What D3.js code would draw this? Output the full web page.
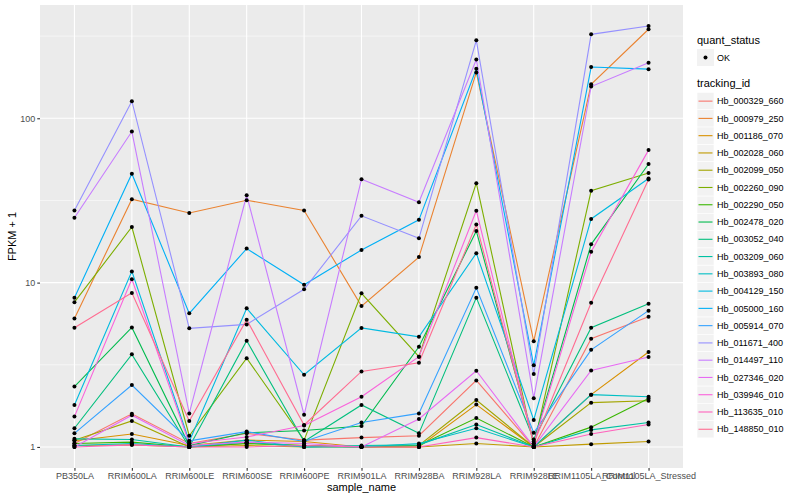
<!DOCTYPE html>
<html>
<head>
<meta charset="utf-8">
<script src="https://cdn.jsdelivr.net/npm/d3@7"></script>
<style>
  body { margin: 0; background: #fff; }
  text { font-family: "Liberation Sans", Arial, sans-serif; }
</style>
</head>
<body>
<svg id="chart" width="800" height="500"></svg>
<script>
// categories on the x axis
const samples = ["PB350LA", "RRIM600LA", "RRIM600LE", "RRIM600SE", "RRIM600PE", "RRIM901LA",
  "RRIM928BA", "RRIM928LA", "RRIM928LE", "RRIM1105LA_Control", "RRIM1105LA_Stressed"];

const trackingIds = ["Hb_000329_660", "Hb_000979_250", "Hb_001186_070", "Hb_002028_060", "Hb_002099_050",
  "Hb_002260_090", "Hb_002290_050", "Hb_002478_020", "Hb_003052_040", "Hb_003209_060",
  "Hb_003893_080", "Hb_004129_150", "Hb_005000_160", "Hb_005914_070", "Hb_011671_400",
  "Hb_014497_110", "Hb_027346_020", "Hb_039946_010", "Hb_113635_010", "Hb_148850_010"];

// FPKM + 1, one array per gene, in sample order
const hb000329 = [1.05, 1.59, 1.05, 1.21, 1.10, 1.14, 1.17, 2.54, 1.00, 4.55, 6.2];
const hb000979 = [6.05, 32.2, 26.5, 31.7, 27.5, 7.2, 14.3, 190, 4.39, 161, 348];
const hb001186 = [1.09, 1.20, 1.02, 1.10, 1.08, 1.00, 1.00, 1.81, 1.00, 2.08, 3.78];
const hb002028 = [1.02, 1.03, 1.00, 1.02, 1.00, 1.00, 1.00, 1.05, 1.00, 1.04, 1.08];
const hb002099 = [1.10, 1.44, 1.00, 1.05, 1.02, 1.00, 1.02, 1.93, 1.00, 1.86, 1.91];
const hb002260 = [7.6, 21.8, 1.17, 3.47, 1.10, 8.6, 3.54, 40.3, 1.02, 36.2, 46.5];
const hb002290 = [1.05, 1.07, 1.00, 1.05, 1.02, 1.00, 1.02, 1.50, 1.00, 1.32, 1.97];
const hb002478 = [2.33, 5.34, 1.02, 1.22, 1.26, 1.34, 4.07, 20.6, 1.08, 17.1, 52.7];
const hb003052 = [1.30, 3.66, 1.00, 4.43, 1.08, 1.80, 1.21, 8.1, 1.11, 5.31, 7.43];
const hb003209 = [1.12, 1.11, 1.00, 1.07, 1.00, 1.02, 1.03, 1.37, 1.00, 1.27, 1.41];
const hb003893 = [1.02, 1.05, 1.00, 1.10, 1.00, 1.00, 1.05, 1.30, 1.00, 2.08, 2.02];
const hb004129 = [1.80, 11.7, 1.08, 6.97, 2.75, 5.3, 4.68, 15.1, 1.46, 24.4, 43];
const hb005000 = [8.1, 46, 6.5, 16.1, 9.7, 15.8, 24.1, 200, 3.14, 205, 199];
const hb005914 = [1.21, 2.38, 1.09, 1.24, 1.08, 1.41, 1.60, 9.3, 1.22, 3.9, 6.75];
const hb011671 = [27.5, 127, 5.27, 5.57, 9.1, 25.5, 18.6, 298, 2.78, 324, 364];
const hb014497 = [24.8, 83, 1.60, 34, 1.57, 42.6, 30.8, 228, 1.98, 156, 218];
const hb027346 = [1.00, 1.56, 1.02, 1.07, 1.05, 1.00, 1.48, 2.91, 1.00, 2.92, 3.53];
const hb039946 = [1.53, 10.5, 1.05, 1.15, 1.35, 2.02, 3.54, 27.4, 1.05, 15.4, 64];
const hb113635 = [1.00, 1.03, 1.00, 1.00, 1.02, 1.00, 1.00, 1.14, 1.00, 1.20, 1.37];
const hb148850 = [5.31, 8.66, 1.44, 5.95, 1.36, 2.88, 3.25, 22.6, 1.05, 7.54, 42.4];

const seriesValues = [hb000329, hb000979, hb001186, hb002028, hb002099, hb002260, hb002290,
  hb002478, hb003052, hb003209, hb003893, hb004129, hb005000, hb005914, hb011671,
  hb014497, hb027346, hb039946, hb113635, hb148850];

const yTicks = [1, 10, 100];

// ggplot default hue palette for 20 levels
const palette = ["#F8766D", "#EA8331", "#D89000", "#C09B00", "#A3A500", "#7CAE00", "#39B600",
  "#00BB4E", "#00BF7D", "#00C1A3", "#00BFC4", "#00BAE0", "#00B0F6", "#35A2FF", "#9590FF",
  "#C77CFF", "#E76BF3", "#FA62DB", "#FF62BC", "#FF6C91"];

const series = trackingIds.map((id, i) => ({
  id: id,
  color: palette[i],
  values: seriesValues[i].map((v, j) => ({ sample: samples[j], value: v }))
}));

const panel = { left: 40, right: 683, top: 5, bottom: 468 };
const svg = d3.select("#chart");

const x = d3.scalePoint()
  .domain(samples)
  .range([panel.left, panel.right])
  .padding(0.6);

// log scale with ggplot's 5% expansion in log space
const allVals = seriesValues.flat();
const lo = Math.log10(d3.min(allVals));
const hi = Math.log10(d3.max(allVals));
const pad = (hi - lo) * 0.05;
const y = d3.scaleLog()
  .domain([Math.pow(10, lo - pad), Math.pow(10, hi + pad)])
  .range([panel.bottom, panel.top]);

// panel background
svg.append("rect")
  .attr("x", panel.left).attr("y", panel.top)
  .attr("width", panel.right - panel.left)
  .attr("height", panel.bottom - panel.top)
  .attr("fill", "#EBEBEB");

// minor grid (half decades)
const minor = [0.5, 1.5, 2.5].map(e => Math.pow(10, e));
svg.append("g").selectAll("line")
  .data(minor.filter(v => y(v) > panel.top))
  .enter().append("line")
  .attr("x1", panel.left).attr("x2", panel.right)
  .attr("y1", d => y(d)).attr("y2", d => y(d))
  .attr("stroke", "#fff").attr("stroke-width", 0.55);

// major grid
svg.append("g").selectAll("line")
  .data(yTicks)
  .enter().append("line")
  .attr("x1", panel.left).attr("x2", panel.right)
  .attr("y1", d => y(d)).attr("y2", d => y(d))
  .attr("stroke", "#fff").attr("stroke-width", 1.1);

svg.append("g").selectAll("line")
  .data(samples)
  .enter().append("line")
  .attr("x1", d => x(d)).attr("x2", d => x(d))
  .attr("y1", panel.top).attr("y2", panel.bottom)
  .attr("stroke", "#fff").attr("stroke-width", 1.1);

// lines
const line = d3.line()
  .x(d => x(d.sample))
  .y(d => y(d.value));

svg.append("g").selectAll("path")
  .data(series)
  .enter().append("path")
  .attr("d", d => line(d.values))
  .attr("fill", "none")
  .attr("stroke", d => d.color)
  .attr("stroke-width", 1.1);

// points
svg.append("g").selectAll("g")
  .data(series)
  .enter().append("g")
  .selectAll("circle")
  .data(d => d.values)
  .enter().append("circle")
  .attr("cx", d => x(d.sample))
  .attr("cy", d => y(d.value))
  .attr("r", 2)
  .attr("fill", "#000");

// axes
const yAxis = svg.append("g")
  .attr("transform", `translate(${panel.left},0)`)
  .call(d3.axisLeft(y).tickValues(yTicks).tickFormat(d3.format("d")).tickSize(2.75).tickPadding(2));
const xAxis = svg.append("g")
  .attr("transform", `translate(0,${panel.bottom})`)
  .call(d3.axisBottom(x).tickSize(2.75).tickPadding(2));

[yAxis, xAxis].forEach(ax => {
  ax.select(".domain").remove();
  ax.selectAll(".tick line").attr("stroke", "#333333").attr("stroke-width", 1.1);
  ax.selectAll(".tick text")
    .attr("fill", "#4D4D4D")
    .style("font-size", "9px")
    .style("font-family", "'Liberation Sans', Arial, sans-serif");
});

// axis titles
svg.append("text")
  .attr("x", (panel.left + panel.right) / 2)
  .attr("y", 491)
  .attr("text-anchor", "middle")
  .style("font-size", "11px")
  .text("sample_name");

svg.append("text")
  .attr("transform", `translate(16,${(panel.top + panel.bottom) / 2}) rotate(-90)`)
  .attr("text-anchor", "middle")
  .style("font-size", "11px")
  .text("FPKM + 1");

// legend
const lg = svg.append("g").attr("transform", "translate(697,0)");
const keyH = 17.27;

lg.append("text").attr("x", 0).attr("y", 44).style("font-size", "11px").text("quant_status");
lg.append("rect").attr("x", 0).attr("y", 49).attr("width", 17).attr("height", 17).attr("fill", "#F2F2F2");
lg.append("circle").attr("cx", 8.5).attr("cy", 57.5).attr("r", 2).attr("fill", "#000");
lg.append("text").attr("x", 20).attr("y", 60.5).style("font-size", "9px").text("OK");

lg.append("text").attr("x", 0).attr("y", 87).style("font-size", "11px").text("tracking_id");

const keys = lg.selectAll(".key")
  .data(series)
  .enter().append("g")
  .attr("class", "key")
  .attr("transform", (d, i) => `translate(0,${92.5 + i * keyH})`);

keys.append("rect")
  .attr("width", 17).attr("height", keyH)
  .attr("fill", "#F2F2F2")
  .attr("stroke", "#fff").attr("stroke-width", 0.6);
keys.append("line")
  .attr("x1", 1.5).attr("x2", 15.5)
  .attr("y1", keyH / 2).attr("y2", keyH / 2)
  .attr("stroke", d => d.color).attr("stroke-width", 1.1);
keys.append("text")
  .attr("x", 20).attr("y", keyH / 2 + 3.2)
  .style("font-size", "9px")
  .text(d => d.id);
</script>
</body>
</html>
